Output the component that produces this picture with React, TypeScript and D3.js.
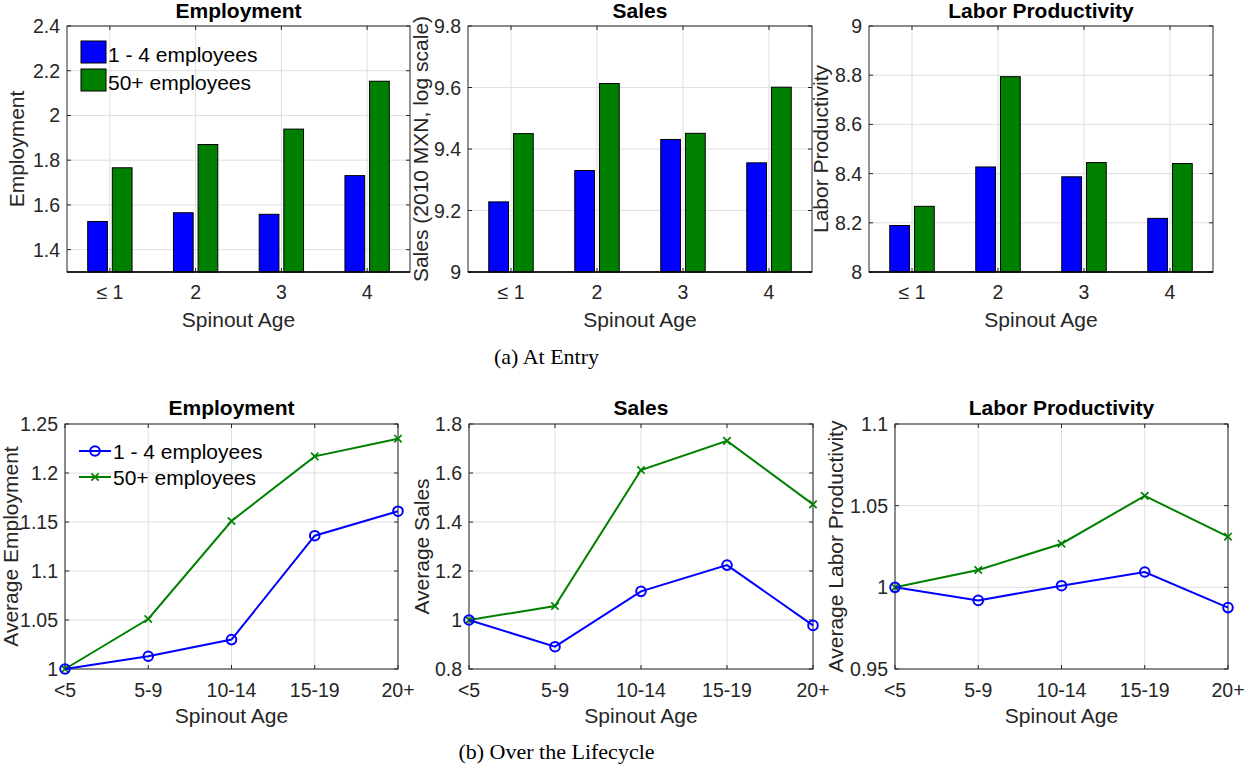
import * as d3 from "d3";

const entryCats = ["≤ 1", "2", "3", "4"];
const lifeCats = ["<5", "5-9", "10-14", "15-19", "20+"];
const seriesNames = ["1 - 4 employees", "50+ employees"];

// At entry (bars)
const entryEmpSmall = [1.526, 1.565, 1.558, 1.731];
const entryEmpLarge = [1.766, 1.87, 1.939, 2.153];
const entrySalesSmall = [9.228, 9.33, 9.431, 9.355];
const entrySalesLarge = [9.45, 9.613, 9.451, 9.601];
const entryProdSmall = [8.189, 8.427, 8.387, 8.218];
const entryProdLarge = [8.267, 8.794, 8.445, 8.441];

// Over the lifecycle (lines)
const lifeEmpSmall = [1, 1.013, 1.03, 1.136, 1.161];
const lifeEmpLarge = [1, 1.051, 1.151, 1.217, 1.235];
const lifeSalesSmall = [1, 0.891, 1.117, 1.224, 0.978];
const lifeSalesLarge = [1, 1.057, 1.612, 1.731, 1.472];
const lifeProdSmall = [1, 0.992, 1.001, 1.0094, 0.9876];
const lifeProdLarge = [1, 1.0106, 1.0267, 1.056, 1.031];

const empTicks = [1.4, 1.6, 1.8, 2, 2.2, 2.4];
const salesTicks = [9, 9.2, 9.4, 9.6, 9.8];
const prodTicks = [8, 8.2, 8.4, 8.6, 8.8, 9];
const lifeEmpTicks = [1, 1.05, 1.1, 1.15, 1.2, 1.25];
const lifeSalesTicks = [0.8, 1, 1.2, 1.4, 1.6, 1.8];
const lifeProdTicks = [0.95, 1, 1.05, 1.1];

const FONT = "'Liberation Sans', Arial, Helvetica, sans-serif";
const AXIS = "#262626";
const GRID = "#dfdfdf";
const BLUE = "#0000ff";
const GREEN = "#008000";
const TICK = 4;

type Box = { x0: number; x1: number; y0: number; y1: number };

const fmt = (v: number) => String(+v.toFixed(3));

const Frame = ({
  box,
  title,
  ylabel,
  ylabelX,
  yTicks,
  y,
  xPos,
  xLabels,
  xLabelDy,
  titleDy,
}: {
  box: Box;
  title: string;
  ylabel: string;
  ylabelX: number;
  yTicks: number[];
  y: d3.ScaleLinear<number, number>;
  xPos: number[];
  xLabels: string[];
  xLabelDy: number[];
  titleDy: number;
}) => {
  const cx = (box.x0 + box.x1) / 2;
  const cy = (box.y0 + box.y1) / 2;
  return (
    <g fontFamily={FONT}>
      {yTicks.map((t) => (
        <text
          key={"yl" + t}
          x={box.x0 - 7}
          y={y(t)}
          dy="0.36em"
          textAnchor="end"
          fontSize={19.5}
          fill={AXIS}
        >
          {fmt(t)}
        </text>
      ))}
      {xPos.map((p, i) => (
        <text
          key={"xl" + i}
          x={p}
          y={box.y1 + xLabelDy[0]}
          textAnchor="middle"
          fontSize={19.5}
          fill={AXIS}
        >
          {xLabels[i]}
        </text>
      ))}
      <text x={cx} y={box.y1 + xLabelDy[1]} textAnchor="middle" fontSize={21} fill={AXIS}>
        Spinout Age
      </text>
      <text
        transform={`translate(${ylabelX},${cy}) rotate(-90)`}
        textAnchor="middle"
        fontSize={21}
        fill={AXIS}
      >
        {ylabel}
      </text>
      <text
        x={cx}
        y={box.y0 - titleDy}
        textAnchor="middle"
        fontSize={21}
        fontWeight="bold"
        fill="#000"
      >
        {title}
      </text>
    </g>
  );
};

const Grid = ({
  box,
  yTicks,
  y,
  xPos,
}: {
  box: Box;
  yTicks: number[];
  y: d3.ScaleLinear<number, number>;
  xPos: number[];
}) => (
  <g>
    {yTicks.map((t) => (
      <line key={"gy" + t} x1={box.x0} x2={box.x1} y1={y(t)} y2={y(t)} stroke={GRID} />
    ))}
    {xPos.map((p, i) => (
      <line key={"gx" + i} x1={p} x2={p} y1={box.y0} y2={box.y1} stroke={GRID} />
    ))}
  </g>
);

const BoxTicks = ({
  box,
  yTicks,
  y,
  xPos,
}: {
  box: Box;
  yTicks: number[];
  y: d3.ScaleLinear<number, number>;
  xPos: number[];
}) => (
  <g stroke={AXIS} strokeWidth={1}>
    {yTicks.map((t) => (
      <g key={"ty" + t}>
        <line x1={box.x0} x2={box.x0 + TICK} y1={y(t)} y2={y(t)} />
        <line x1={box.x1} x2={box.x1 - TICK} y1={y(t)} y2={y(t)} />
      </g>
    ))}
    {xPos.map((p, i) => (
      <g key={"tx" + i}>
        <line x1={p} x2={p} y1={box.y1} y2={box.y1 - TICK} />
        <line x1={p} x2={p} y1={box.y0} y2={box.y0 + TICK} />
      </g>
    ))}
    <rect
      x={box.x0}
      y={box.y0}
      width={box.x1 - box.x0}
      height={box.y1 - box.y0}
      fill="none"
    />
  </g>
);

const BarPanel = ({
  box,
  title,
  ylabel,
  ylabelX,
  domain,
  yTicks,
  small,
  large,
  legend,
}: {
  box: Box;
  title: string;
  ylabel: string;
  ylabelX: number;
  domain: [number, number];
  yTicks: number[];
  small: number[];
  large: number[];
  legend?: boolean;
}) => {
  const x = d3.scaleLinear().domain([0.5, entryCats.length + 0.5]).range([box.x0, box.x1]);
  const y = d3.scaleLinear().domain(domain).range([box.y1, box.y0]);
  const xPos = entryCats.map((_, i) => x(i + 1));
  const off = 0.1436;
  const bw = x(0.23) - x(0);
  const series = [
    { vals: small, color: BLUE, dx: -off },
    { vals: large, color: GREEN, dx: off },
  ];
  return (
    <g>
      <Grid box={box} yTicks={yTicks} y={y} xPos={xPos} />
      {series.map((s, si) =>
        s.vals.map((v, i) => (
          <rect
            key={si + "-" + i}
            x={x(i + 1 + s.dx) - bw / 2}
            y={y(v)}
            width={bw}
            height={y(domain[0]) - y(v)}
            fill={s.color}
            stroke="#000"
            strokeWidth={1}
          />
        ))
      )}
      <BoxTicks box={box} yTicks={yTicks} y={y} xPos={xPos} />
      <line x1={box.x0} x2={box.x1} y1={box.y1} y2={box.y1} stroke="#000" strokeWidth={1.5} />
      <Frame
        box={box}
        title={title}
        ylabel={ylabel}
        ylabelX={ylabelX}
        yTicks={yTicks}
        y={y}
        xPos={xPos}
        xLabels={entryCats}
        xLabelDy={[26.5, 54.5]}
        titleDy={8.5}
      />
      {legend && (
        <g fontFamily={FONT}>
          {[BLUE, GREEN].map((c, i) => (
            <g key={c}>
              <rect
                x={box.x0 + 14}
                y={box.y0 + 15 + i * 28}
                width={25}
                height={22}
                fill={c}
                stroke="#000"
              />
              <text x={box.x0 + 41} y={box.y0 + 35.5 + i * 28} fontSize={21} fill="#000">
                {seriesNames[i]}
              </text>
            </g>
          ))}
        </g>
      )}
    </g>
  );
};

const Circle = ({ cx, cy }: { cx: number; cy: number }) => (
  <circle cx={cx} cy={cy} r={4.8} fill="none" stroke={BLUE} strokeWidth={2} />
);

const Cross = ({ cx, cy }: { cx: number; cy: number }) => (
  <path
    d={`M${cx - 3.7},${cy - 3.7}L${cx + 3.7},${cy + 3.7}M${cx - 3.7},${cy + 3.7}L${cx + 3.7},${cy - 3.7}`}
    stroke={GREEN}
    strokeWidth={1.7}
  />
);

const LinePanel = ({
  box,
  title,
  ylabel,
  ylabelX,
  domain,
  yTicks,
  small,
  large,
  legend,
}: {
  box: Box;
  title: string;
  ylabel: string;
  ylabelX: number;
  domain: [number, number];
  yTicks: number[];
  small: number[];
  large: number[];
  legend?: boolean;
}) => {
  const x = d3.scalePoint<string>().domain(lifeCats).range([box.x0, box.x1]).padding(0);
  const y = d3.scaleLinear().domain(domain).range([box.y1, box.y0]);
  const xPos = lifeCats.map((c) => x(c) as number);
  const line = d3
    .line<number>()
    .x((_, i) => xPos[i])
    .y((d) => y(d));
  return (
    <g>
      <Grid box={box} yTicks={yTicks} y={y} xPos={xPos} />
      <BoxTicks box={box} yTicks={yTicks} y={y} xPos={xPos} />
      <path d={line(large) || ""} fill="none" stroke={GREEN} strokeWidth={2} />
      {large.map((v, i) => (
        <Cross key={"c" + i} cx={xPos[i]} cy={y(v)} />
      ))}
      <path d={line(small) || ""} fill="none" stroke={BLUE} strokeWidth={2} />
      {small.map((v, i) => (
        <Circle key={"o" + i} cx={xPos[i]} cy={y(v)} />
      ))}
      <Frame
        box={box}
        title={title}
        ylabel={ylabel}
        ylabelX={ylabelX}
        yTicks={yTicks}
        y={y}
        xPos={xPos}
        xLabels={lifeCats}
        xLabelDy={[27.5, 53.5]}
        titleDy={9}
      />
      {legend && (
        <g fontFamily={FONT}>
          {[0, 1].map((i) => {
            const ly = box.y0 + 27 + i * 26;
            const c = i === 0 ? BLUE : GREEN;
            return (
              <g key={i}>
                <line x1={box.x0 + 14} x2={box.x0 + 46} y1={ly} y2={ly} stroke={c} strokeWidth={2} />
                {i === 0 ? <Circle cx={box.x0 + 30} cy={ly} /> : <Cross cx={box.x0 + 30} cy={ly} />}
                <text x={box.x0 + 48} y={ly} dy="0.36em" fontSize={21} fill="#000">
                  {seriesNames[i]}
                </text>
              </g>
            );
          })}
        </g>
      )}
    </g>
  );
};

export default function App() {
  const top = { y0: 26, y1: 272 };
  const bot = { y0: 424, y1: 669 };
  return (
    <svg
      width={1254}
      height={769}
      style={{ position: "absolute", left: 0, top: 0, background: "#fff" }}
    >
      <rect width={1254} height={769} fill="#fff" />
      <BarPanel
        box={{ x0: 67, x1: 410, ...top }}
        title="Employment"
        ylabel="Employment"
        ylabelX={23.5}
        domain={[1.3, 2.4]}
        yTicks={empTicks}
        small={entryEmpSmall}
        large={entryEmpLarge}
        legend
      />
      <BarPanel
        box={{ x0: 468, x1: 812, ...top }}
        title="Sales"
        ylabel="Sales (2010 MXN, log scale)"
        ylabelX={428}
        domain={[9, 9.8]}
        yTicks={salesTicks}
        small={entrySalesSmall}
        large={entrySalesLarge}
      />
      <BarPanel
        box={{ x0: 869, x1: 1213, ...top }}
        title="Labor Productivity"
        ylabel="Labor Productivity"
        ylabelX={828}
        domain={[8, 9]}
        yTicks={prodTicks}
        small={entryProdSmall}
        large={entryProdLarge}
      />
      <LinePanel
        box={{ x0: 65, x1: 398, ...bot }}
        title="Employment"
        ylabel="Average Employment"
        ylabelX={17.5}
        domain={[1, 1.25]}
        yTicks={lifeEmpTicks}
        small={lifeEmpSmall}
        large={lifeEmpLarge}
        legend
      />
      <LinePanel
        box={{ x0: 469, x1: 813, ...bot }}
        title="Sales"
        ylabel="Average Sales"
        ylabelX={429}
        domain={[0.8, 1.8]}
        yTicks={lifeSalesTicks}
        small={lifeSalesSmall}
        large={lifeSalesLarge}
      />
      <LinePanel
        box={{ x0: 895, x1: 1228, ...bot }}
        title="Labor Productivity"
        ylabel="Average Labor Productivity"
        ylabelX={843}
        domain={[0.95, 1.1]}
        yTicks={lifeProdTicks}
        small={lifeProdSmall}
        large={lifeProdLarge}
      />
      <g fontFamily="'Liberation Serif', 'Times New Roman', serif" fontSize={22} fill="#000">
        <text x={546.5} y={364} textAnchor="middle">
          (a) At Entry
        </text>
        <text x={556.5} y={759} textAnchor="middle">
          (b) Over the Lifecycle
        </text>
      </g>
    </svg>
  );
}
